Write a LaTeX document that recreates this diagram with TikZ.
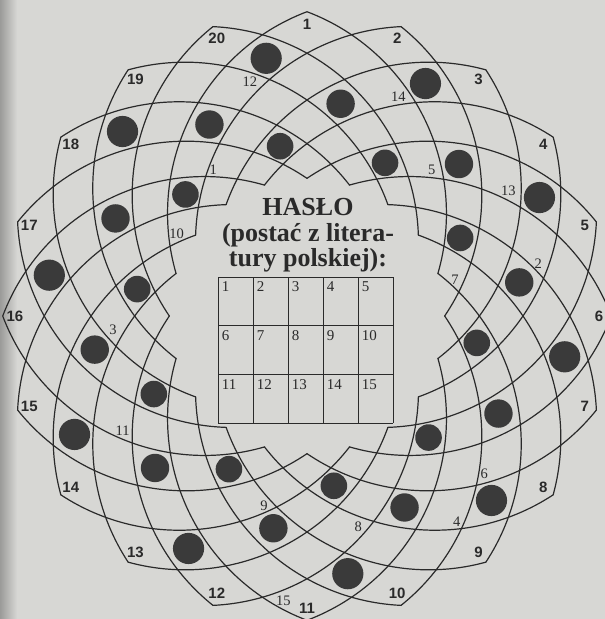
\documentclass[tikz,border=0pt]{standalone}
\usepackage{fontspec}
\setmainfont{Liberation Serif}
\newfontfamily\rimfont{Liberation Sans}
\definecolor{paper}{HTML}{D7D7D4}
\definecolor{ink}{HTML}{2A2A2A}
\definecolor{dotc}{HTML}{3A3A3A}
\begin{document}
\begin{tikzpicture}[x=1pt,y=1pt,
  arcline/.style={draw=ink, line width=1.2pt, line cap=round, line join=miter},
  gridline/.style={draw=ink, line width=1.1pt},
  blackdot/.style={fill=dotc},
  rimlabel/.style={font=\rimfont\bfseries\fontsize{15}{15}\selectfont, text=ink, inner sep=0pt},
  keylabel/.style={font=\fontsize{14.5}{14.5}\selectfont, text=ink, inner sep=0pt},
  gridnum/.style={font=\fontsize{15}{15}\selectfont, text=ink, inner sep=0pt, anchor=north west},
  titletext/.style={font=\bfseries\fontsize{26}{25.5}\selectfont, text=ink, inner sep=0pt, align=center, anchor=north}]
\fill[paper] (-307,-303) rectangle (298,316);
\shade[left color=black!28!paper, right color=paper] (-307,-303) rectangle (-290,316);
\useasboundingbox (-307,-303) rectangle (298,316);
\clip (-307,-303) rectangle (298,316);
% arcs: each peak starts one clockwise and one counterclockwise arc
\foreach \k in {1,...,20}{
  \pgfmathsetmacro\a{90-18*(\k-1)}
  \draw[arcline] ([shift={(\a-36.7:127.8pt)}]\a+106.13:215.8pt)
     arc[start angle=\a+106.13, end angle=\a+20.73, radius=215.8pt]
     arc[start angle=\a-20.73, end angle=\a-106.13, radius=215.8pt];
  \node[rimlabel] (rim\k) at (\a:292pt) {\k};
}
% black cells
\foreach \j in {0,...,9}{
  \fill[blackdot] (99+36*\j:260.9pt) circle[radius=15.6pt];
  \fill[blackdot] (99+36*\j:171.9pt) circle[radius=13.3pt];
  \fill[blackdot] (117+36*\j:214.9pt) circle[radius=14.2pt];
}
% password cell numbers in the rosette
\node[keylabel] (k1) at (-93.7,146) {1};
\node[keylabel] (k2) at (231.3,52.7) {2};
\node[keylabel] (k3) at (-194,-14) {3};
\node[keylabel] (k4) at (149.7,-205.7) {4};
\node[keylabel] (k5) at (124.7,146) {5};
\node[keylabel] (k6) at (177.3,-158) {6};
\node[keylabel] (k7) at (148,36) {7};
\node[keylabel] (k8) at (51.3,-210.7) {8};
\node[keylabel] (k9) at (-43,-189.5) {9};
\node[keylabel] (k10) at (-130.3,82.7) {10};
\node[keylabel] (k11) at (-184.3,-115) {11};
\node[keylabel] (k12) at (-57,234.3) {12};
\node[keylabel] (k13) at (201.3,125.3) {13};
\node[keylabel] (k14) at (91.3,219.3) {14};
\node[keylabel] (k15) at (-23.7,-284.7) {15};
% title
\node[titletext] (title) at (1,117.5) {HASŁO\\(postać z litera-\\tury polskiej):};
% answer grid
\foreach \i in {0,...,5}{
  \draw[gridline] (-88.5+35*\i,38.7) -- (-88.5+35*\i,-107.1);
}
\foreach \r in {0,...,3}{
  \draw[gridline] (-88.5,38.7-48.6*\r) -- (86.5,38.7-48.6*\r);
}
\foreach \r in {0,1,2}{
  \foreach \c in {0,...,4}{
    \pgfmathtruncatemacro\n{5*\r+\c+1}
    \node[gridnum] (g\n) at (-88.5+35*\c+3.2,38.7-48.6*\r-4.4) {\n};
  }
}
\end{tikzpicture}
\end{document}
